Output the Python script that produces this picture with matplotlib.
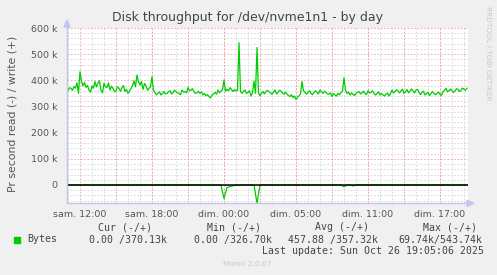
import numpy as np
import matplotlib
matplotlib.use("Agg")
import matplotlib.pyplot as plt
from matplotlib.lines import Line2D
from matplotlib.patches import Polygon

W, H = 497, 275

# samples every 15 min, time in hours counted from "sam. 00:00"
sample_start = 10.75
sample_step = 0.25

# write (+) bytes per second, in k
write_k = [363, 360, 369, 376, 391, 433, 379, 373, 363, 379,
           395, 389, 363, 389, 373, 363, 369, 360, 369, 373,
           357, 350, 369, 398, 420, 382, 365, 379, 369, 414,
           353, 350, 344, 357, 350, 360, 353, 357, 350, 363,
           357, 373, 363, 357, 353,
           350, 344, 341, 338, 344, 354, 363, 359, 401, 366,
           372, 357, 359, 543.74, 350, 363, 354, 340, 397, 525,
           341, 357, 357, 357, 347, 363, 354, 359, 347, 347,
           338, 334, 326.7, 341, 395, 354, 354, 350, 354, 354,
           363, 350, 354, 347, 338,
           344, 350, 354, 410, 350, 344, 347, 350, 357, 353,
           350, 360, 354, 350, 350, 344, 344, 347, 340, 363,
           357, 359, 360, 350, 365, 360, 360, 363, 354, 354,
           344, 354, 350, 350, 350, 347, 357, 369, 360, 360,
           359, 365, 363, 367, 370.13]

# write samples half way between the ones above (the jitter)
write_mid_k = [356, 372, 362, 370, 350, 395, 392, 380, 355, 370,
               375, 398, 352, 375, 390, 378, 356, 375, 358, 380,
               365, 358, 380, 375, 395, 395, 388, 362, 375, 362,
               345, 356, 350, 348, 356, 348, 362, 352, 345, 355,
               352, 360, 368, 350, 358, 356, 350, 345, 333, 348,
               347, 352, 364, 358, 360, 365, 365, 362, 357, 358,
               350, 360, 352, 350, 352, 350, 348, 362, 352, 355,
               348, 362, 352, 355, 342, 345, 340, 335, 348, 360,
               347, 360, 345, 360, 348, 356, 358, 348, 352, 350,
               340, 345, 358, 362, 355, 352, 342, 355, 348, 358,
               345, 352, 360, 344, 356, 350, 340, 352, 350, 352,
               364, 352, 366, 356, 352, 367, 352, 365, 345, 358,
               350, 342, 357, 345, 355, 343, 362, 356, 367, 354,
               368, 357, 370, 362]

# read (-) bytes per second: zero except a few samples
read_idx = [53, 54, 55, 56, 58, 64, 93, 96]
read_k = [52, 10, 6, 3, 2, 69.74, 7, 4]

tick_hours = [12, 18, 24, 30, 36, 42]
tick_labels = ["sam. 12:00", "sam. 18:00", "dim. 00:00",
               "dim. 05:00", "dim. 11:00", "dim. 17:00"]
y_ticks = [0, 100000, 200000, 300000, 400000, 500000, 600000]
y_labels = ["0", "100 k", "200 k", "300 k", "400 k", "500 k", "600 k"]

legend_heads = ["Cur (-/+)", "Min (-/+)", "Avg (-/+)", "Max (-/+)"]
legend_vals = ["0.00 /370.13k", "0.00 /326.70k", "457.88 /357.32k", "69.74k/543.74k"]

GREEN = "#00cc00"
AXIS = "#c4c4f0"
TXT = "#555555"


def fx(x):
    return x / W


def fy(y):
    return 1 - y / H


fig = plt.figure(figsize=(W / 100, H / 100), dpi=100, facecolor="#f0f0f0")
ax = fig.add_axes([fx(67), fy(203.3), (468 - 67) / W, (203.3 - 28) / H])
ax.set_facecolor("white")

n = len(write_k)
t = sample_start + sample_step * np.arange(n)
t_all = sample_start + sample_step / 2 * np.arange(2 * n - 1)
write = np.empty(2 * n - 1)
write[0::2] = np.array(write_k) * 1000
write[1::2] = np.array(write_mid_k) * 1000
read = np.zeros(n)
read[read_idx] = np.array(read_k) * 1000

ax.plot(t_all, write, color=GREEN, lw=0.9, zorder=3)
ax.plot(t, -read, color=GREEN, lw=0.9, zorder=3)
ax.axhline(0, color="black", lw=1.1, zorder=4)

ax.set_xlim(10.917, 44.333)
ax.set_ylim(-70000, 600000)

# grid like rrdtool: grey minor, red major
ax.set_xticks(np.arange(11, 45, 1), minor=True)
ax.set_yticks(np.arange(-60000, 600001, 20000), minor=True)
ax.set_yticks(y_ticks)
ax.set_yticklabels(y_labels)
ax.set_xticks(tick_hours)
ax.set_xticklabels(tick_labels)
ax.grid(which="minor", color="#d4d4d4", lw=0.6, linestyle=(0, (2, 2)))
ax.grid(which="major", color="#f0a0a0", lw=0.6, linestyle=(0, (2, 2)))
for h in range(15, 45, 3):
    ax.axvline(h, color="#f0a0a0", lw=0.6, linestyle=(0, (2, 2)), zorder=0.6)
ax.set_axisbelow(True)

ax.tick_params(which="both", length=0, labelsize=6.8, colors=TXT)
ax.tick_params(axis="y", pad=7)
ax.tick_params(axis="x", pad=5)
for s in ax.spines.values():
    s.set_visible(False)

# axes with arrows
fig.add_artist(Line2D([fx(67), fx(67)], [fy(203.3), fy(23)], color=AXIS, lw=1, transform=fig.transFigure))
fig.add_artist(Line2D([fx(67), fx(470)], [fy(203.3), fy(203.3)], color=AXIS, lw=1, transform=fig.transFigure))
fig.add_artist(Polygon([(fx(67), fy(20)), (fx(64), fy(27)), (fx(70), fy(27))],
                       closed=True, color=AXIS, transform=fig.transFigure))
fig.add_artist(Polygon([(fx(474), fy(203.3)), (fx(467), fy(200.3)), (fx(467), fy(206.3))],
                       closed=True, color=AXIS, transform=fig.transFigure))

fig.text(fx(248), fy(18), "Disk throughput for /dev/nvme1n1 - by day",
         ha="center", va="center", fontsize=9, color="#444444")
fig.text(fx(13), fy(114), "Pr second read (-) / write (+)", rotation=90,
         ha="center", va="center", fontsize=7.8, color=TXT)
fig.text(fx(488), fy(53), "RRDTOOL / TOBI OETIKER", rotation=270,
         ha="center", va="center", fontsize=5.3, color="#c8c8c8")

# legend block in monospace
mono = dict(family="DejaVu Sans Mono", fontsize=7.1, color="#444444", va="center")
head_x = [98, 207, 315, 423]
val_x = [89, 194, 288, 398]
for x, s in zip(head_x, legend_heads):
    fig.text(fx(x), fy(227.5), s, ha="left", **mono)
for x, s in zip(val_x, legend_vals):
    fig.text(fx(x), fy(239.5), s, ha="left", **mono)
fig.add_artist(Polygon([(fx(14), fy(237)), (fx(20), fy(237)), (fx(20), fy(243)), (fx(14), fy(243))],
                       closed=True, color=GREEN, transform=fig.transFigure))
fig.text(fx(27), fy(239.5), "Bytes", ha="left", **mono)
fig.text(fx(262), fy(251.3), "Last update: Sun Oct 26 19:05:06 2025", ha="left", **mono)
fig.text(fx(247), fy(264.5), "Munin 2.0.67", ha="center", va="center", fontsize=5.3, color="#c8c8c8")

fig.savefig("out.png", dpi=100, facecolor=fig.get_facecolor())
